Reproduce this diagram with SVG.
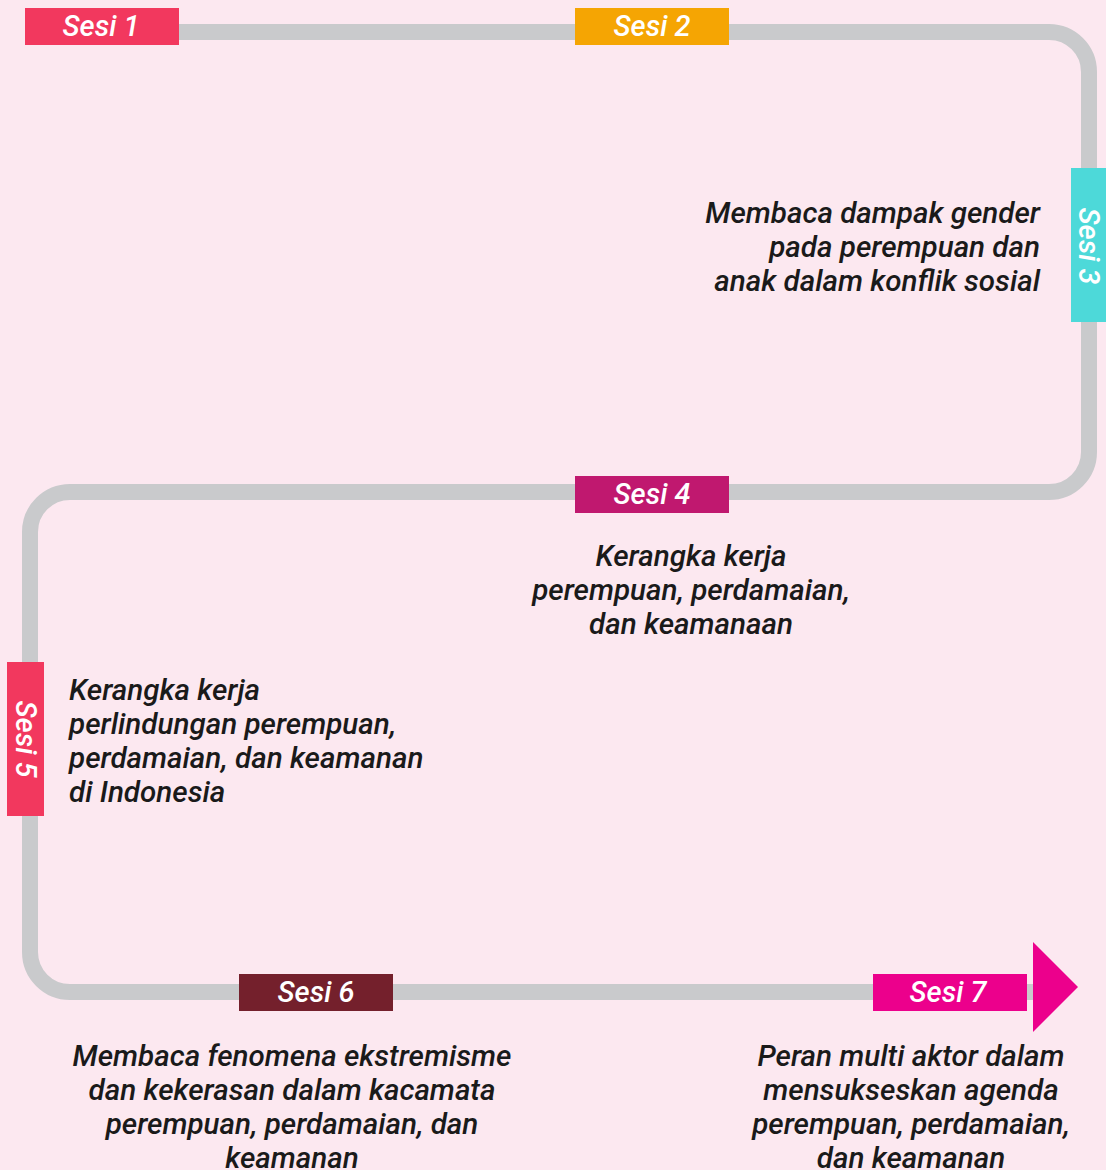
<svg xmlns="http://www.w3.org/2000/svg" width="1106" height="1170" viewBox="0 0 1106 1170">
<style>
.lbl{font-family:Roboto,"Liberation Sans",sans-serif;font-style:italic;font-weight:500;font-size:29px;fill:#ffffff;text-anchor:middle}
.desc{font-family:Roboto,"Liberation Sans",sans-serif;font-style:italic;font-weight:500;font-size:29.6px;fill:#1a1a1a}
.track{fill:none;stroke:#c9cacc;stroke-width:16}
</style>
<rect width="1106" height="1170" fill="#fce8f0"/>
<g id="connectors">
<path class="track" d="M 100 32 H 1049 A 40 40 0 0 1 1089 72 V 452 A 40 40 0 0 1 1049 492 H 70 A 40 40 0 0 0 30 532 V 952 A 40 40 0 0 0 70 992 H 1040"/>
</g>
<g id="sesi1">
<rect x="25" y="8" width="154" height="37" fill="#f2385e"/>
<text class="lbl" x="101" y="36">Sesi 1</text>
</g>
<g id="sesi2">
<rect x="575" y="8" width="154" height="37" fill="#f5a503"/>
<text class="lbl" x="652" y="36">Sesi 2</text>
</g>
<g id="sesi3">
<rect x="1071" y="168" width="35" height="154" fill="#4dd9d9"/>
<text class="lbl" transform="translate(1079 246) rotate(90)" x="0" y="0">Sesi 3</text>
<text class="desc" text-anchor="end"><tspan x="1040" y="223">Membaca dampak gender</tspan><tspan x="1040" y="257">pada perempuan dan</tspan><tspan x="1040" y="291">anak dalam konflik sosial</tspan></text>
</g>
<g id="sesi4">
<rect x="575" y="476" width="154" height="37" fill="#c0186f"/>
<text class="lbl" x="652" y="504">Sesi 4</text>
<text class="desc" text-anchor="middle"><tspan x="691" y="566">Kerangka kerja</tspan><tspan x="691" y="600">perempuan, perdamaian,</tspan><tspan x="691" y="634">dan keamanaan</tspan></text>
</g>
<g id="sesi5">
<rect x="7" y="662" width="37" height="154" fill="#f2385e"/>
<text class="lbl" transform="translate(16 739) rotate(90)" x="0" y="0">Sesi 5</text>
<text class="desc"><tspan x="69" y="700">Kerangka kerja</tspan><tspan x="69" y="734">perlindungan perempuan,</tspan><tspan x="69" y="768">perdamaian, dan keamanan</tspan><tspan x="69" y="802">di Indonesia</tspan></text>
</g>
<g id="sesi6">
<rect x="239" y="974" width="154" height="37" fill="#74202c"/>
<text class="lbl" x="316" y="1002">Sesi 6</text>
<text class="desc" text-anchor="middle"><tspan x="292" y="1066">Membaca fenomena ekstremisme</tspan><tspan x="292" y="1100">dan kekerasan dalam kacamata</tspan><tspan x="292" y="1134">perempuan, perdamaian, dan</tspan><tspan x="292" y="1168">keamanan</tspan></text>
</g>
<g id="sesi7">
<rect x="873" y="974" width="154" height="37" fill="#ec008c"/>
<polygon points="1033,942 1078,987 1033,1032" fill="#ec008c"/>
<text class="lbl" x="948" y="1002">Sesi 7</text>
<text class="desc" text-anchor="middle"><tspan x="911" y="1066">Peran multi aktor dalam</tspan><tspan x="911" y="1100">mensukseskan agenda</tspan><tspan x="911" y="1134">perempuan, perdamaian,</tspan><tspan x="911" y="1168">dan keamanan</tspan></text>
</g>
</svg>
